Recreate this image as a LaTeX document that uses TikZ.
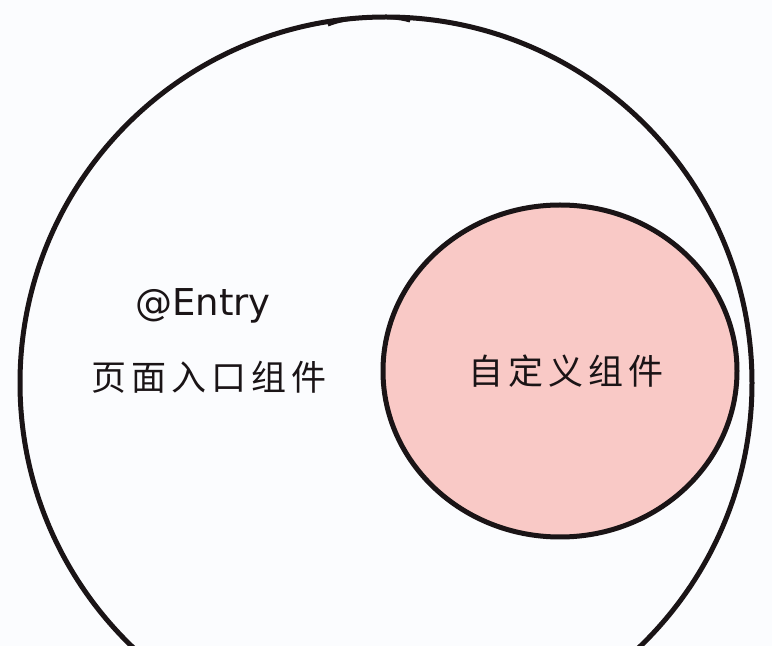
\documentclass[tikz,border=0pt]{standalone}
\usepackage{fontspec}
\usepackage{tikz}
\usetikzlibrary{shapes.geometric}
\newfontfamily\cjk[LetterSpace=14]{Noto Sans CJK SC}
\newfontfamily\latin{DejaVu Sans}
\definecolor{bgwhite}{HTML}{FBFCFE}
\definecolor{rosefill}{HTML}{F9C9C6}
\definecolor{inkline}{HTML}{1A1416}
\tikzset{
  ring/.style={draw=inkline, line width=5pt},
  label/.style={text=inkline, font=\cjk\fontsize{35}{42}\selectfont},
  tag/.style={text=inkline, font=\latin\fontsize{37}{44}\selectfont}
}
\begin{document}
\begin{tikzpicture}[x=1pt, y=1pt, node distance=71pt]
	\useasboundingbox (0,0) rectangle (772,646);
	\fill[bgwhite] (0,0) rectangle (772,646);

	\draw[ring] (386,263) circle (366);
	\draw[ring, line width=3pt] (328,621) .. controls (350,630) and (390,631) .. (410,625);

	\node (custom) [ellipse, ring, fill=rosefill, minimum width=354, minimum height=332, inner sep=0pt, label] at (560,275) {\hspace*{12pt}自定义组件};
	\node (page) [label] at (209,269) {页面入口组件};
	\node (entry) [above of=page, xshift=-6pt, tag] {@Entry};
\end{tikzpicture}
\end{document}
